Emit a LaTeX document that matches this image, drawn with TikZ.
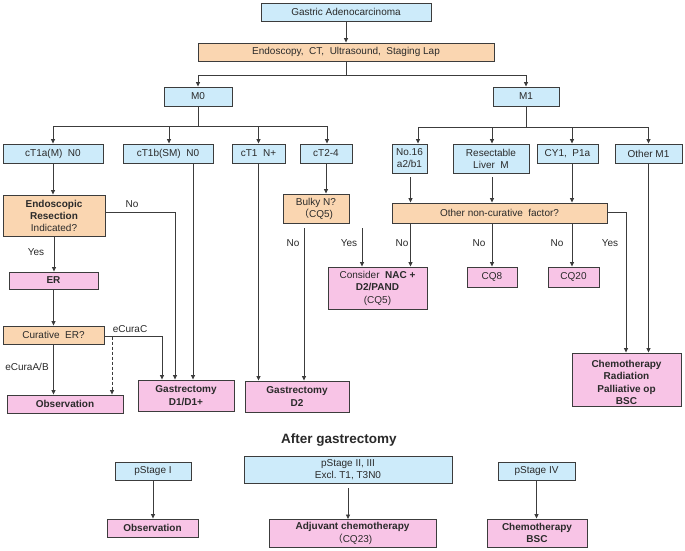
\documentclass[tikz,border=0pt]{standalone}
\usepackage{fontspec}
\setmainfont{Liberation Sans}
\newfontfamily\cjk{Noto Sans CJK SC}
\usetikzlibrary{arrows.meta}
\definecolor{bfill}{HTML}{CDEBFA}
\definecolor{ofill}{HTML}{FAD6B1}
\definecolor{pfill}{HTML}{F8C4E6}
\definecolor{lncol}{HTML}{3C3C3C}
\definecolor{txcol}{HTML}{2A2A2A}
\begin{document}
\begin{tikzpicture}[x=1pt,y=-1pt,
  box/.style={draw=lncol, line width=0.9pt, inner sep=0pt, align=center, text=txcol,
              font=\fontsize{10}{12}\selectfont},
  sz/.style 2 args={minimum width=#1, minimum height=#2},
  bbox/.style={box, fill=bfill},
  obox/.style={box, fill=ofill},
  pbox/.style={box, fill=pfill, font=\fontsize{10}{12.5}\selectfont\bfseries},
  conn/.style={draw=lncol, line width=0.8pt},
  arr/.style={conn, -{Triangle[length=4.5pt,width=4pt]}},
  lbl/.style={text=txcol, font=\fontsize{10}{12}\selectfont, inner sep=0pt}]
\useasboundingbox (0,0) rectangle (685,550);
\fill[white] (0,0) rectangle (685,550);

% top
\node[bbox, sz={170}{18}] (ga) at (346,12) {Gastric Adenocarcinoma};
\node[obox, sz={296}{18}] (endo) at (346,52) {Endoscopy,\ \ CT,\ \ Ultrasound,\ \ Staging Lap};
\node[bbox, sz={68}{19}] (m0) at (198,96.5) {M0};
\node[bbox, sz={66}{19}] (m1) at (526,96.5) {M1};

% M0 branch
\node[bbox, sz={100}{19}] (ct1a) at (53,153.5) {cT1a(M)\ \ N0};
\node[bbox, sz={90}{19}] (ct1b) at (168,153.5) {cT1b(SM)\ \ N0};
\node[bbox, sz={53}{19}] (ct1n) at (258.5,153.5) {cT1\ \ N+};
\node[bbox, sz={52}{19}] (ct24) at (326,153.5) {cT2-4};

% M1 branch
\node[bbox, sz={35}{29}] (no16) at (409.5,158.5) {No.16\\a2/b1};
\node[bbox, sz={76}{29}] (res) at (491,158.5) {Resectable\\Liver\ \ M};
\node[bbox, sz={61}{19}] (cy1) at (567.5,153.5) {CY1,\ \ P1a};
\node[bbox, sz={67}{19}] (om1) at (648.5,153.5) {Other M1};

% left column
\node[obox, sz={102}{41}] (erind) at (54,215.5) {\textbf{Endoscopic}\\\textbf{Resection}\\Indicated?};
\node[pbox, sz={89}{17}] (er) at (53.5,280.5) {ER};
\node[obox, sz={101}{18}] (curer) at (53.5,335) {Curative\ \ ER?};
\node[pbox, sz={116}{18}] (obs) at (65,404) {Observation};
\node[pbox, sz={96}{31}] (gd1) at (186,395.5) {Gastrectomy\\D1/D1+};
\node[pbox, sz={104}{31}] (gd2) at (297,396.5) {Gastrectomy\\D2};
\node[obox, sz={66}{29}] (bulky) at (316,208.5) {Bulky N?\\{\cjk （}CQ5)};
\node[pbox, sz={99}{42}] (nac) at (377.5,288) {\mdseries Consider\ \ \bfseries NAC\ +\\D2/PAND\\\mdseries(CQ5)};

% right column
\node[obox, sz={215}{20}] (onc) at (499.5,213) {Other\ non-curative\ \ factor?};
\node[pbox, sz={50}{20}] (cq8) at (492,277) {\mdseries CQ8};
\node[pbox, sz={51}{20}] (cq20) at (573.5,277) {\mdseries CQ20};
\node[pbox, sz={109}{53}] (chemo) at (626.5,379.5) {\rule{0pt}{13.5pt}Chemotherapy\\Radiation\\Palliative op\\BSC};

% after gastrectomy
\node[lbl, font=\fontsize{13.5}{15}\selectfont\bfseries] (after) at (339,440) {After gastrectomy};
\node[bbox, sz={76}{18}] (ps1) at (153,471) {pStage I};
\node[bbox, sz={208}{27}] (ps2) at (348,469.5) {pStage II,\ III\\Excl.\ T1,\ T3N0};
\node[bbox, sz={77}{18}] (ps4) at (536.5,471) {pStage IV};
\node[pbox, sz={91}{18}] (obs2) at (152.5,528) {Observation};
\node[pbox, sz={167}{28}] (adj) at (352.5,533.5) {Adjuvant chemotherapy\\\mdseries{\cjk （}CQ23)};
\node[pbox, sz={100}{28}] (chb) at (537,533) {Chemotherapy\\BSC};

% connectors top
\draw[arr] (ga) -- (endo);
\draw[arr] (endo.south) -- ++(0,14) -| (m0.north);
\draw[arr] (endo.south) -- ++(0,14) -| (m1.north);
\draw[arr] (m0.south) -- ++(0,19.5) -| (ct1a.north);
\draw[arr] (m0.south) -- ++(0,19.5) -| ([xshift=1pt]ct1b.north);
\draw[arr] (m0.south) -- ++(0,19.5) -| (ct1n.north);
\draw[arr] (m0.south) -- ++(0,19.5) -| ([xshift=1pt]ct24.north);
\draw[arr] (m1.south) -- ++(0,20.5) -| ([xshift=8.5pt]no16.north);
\draw[arr] (m1.south) -- ++(0,20.5) -| ([xshift=1pt]res.north);
\draw[arr] (m1.south) -- ++(0,20.5) -| ([xshift=4.5pt]cy1.north);
\draw[arr] (m1.south) -- ++(0,20.5) -| (om1.north);

% left column connectors
\draw[arr] (ct1a.south) -- (ct1a.south |- erind.north);
\draw[arr] ([yshift=3pt]erind.east) -| ([xshift=-11pt]gd1.north);
\node[lbl] (lno1) at (132,204) {No};
\draw[arr] (erind.south) -- (erind.south |- er.north);
\node[lbl] (lyes1) at (36,252.5) {Yes};
\draw[arr] (er.south) -- (er.south |- curer.north);
\draw[arr] (curer.south) -- (curer.south |- obs.north);
\node[lbl] (lab) at (27,367) {eCuraA/B};
\draw[arr] ([yshift=-1.5pt]curer.east) -| ([xshift=-24pt]gd1.north);
\node[lbl] (lc) at (130,329) {eCuraC};
\coordinate (dtop) at (112,336.5);
\draw[arr, dashed, dash pattern=on 3pt off 2pt] (dtop) -- (dtop |- obs.north);
\path ([xshift=25pt]ct1b.south) coordinate (b1);
\draw[arr] (b1) -- (b1 |- gd1.north);
\draw[arr] (ct1n.south) -- (ct1n.south |- gd2.north);
\draw[arr] (ct24.south) -- (ct24.south |- bulky.north);
\path ([xshift=-12pt]bulky.south) coordinate (bn);
\draw[arr, shorten <=5pt] (bn) -- (bn |- gd2.north);
\node[lbl] (lno2) at (293,243) {No};
\coordinate (by) at (362,223);
\draw[arr, shorten <=5pt] (by) -- (by |- nac.north);
\node[lbl] (lyes2) at (349,243) {Yes};

% right column connectors
\path ([xshift=1pt]no16.south) coordinate (n16);
\draw[arr, shorten <=4pt] (n16) -- (n16 |- onc.north);
\path ([xshift=1pt]res.south) coordinate (rs);
\draw[arr, shorten <=4pt] (rs) -- (rs |- onc.north);
\path ([xshift=4.5pt]cy1.south) coordinate (cy);
\draw[arr] (cy) -- (cy |- onc.north);
\draw[arr] (om1.south) -- (om1.south |- chemo.north);
\path (n16 |- onc.south) coordinate (o1);
\draw[arr] (o1) -- (o1 |- nac.north);
\node[lbl] (lno3) at (402,243) {No};
\draw[arr] (onc.south -| cq8.north) -- (cq8.north);
\node[lbl] (lno4) at (479,243) {No};
\path (cy |- onc.south) coordinate (o3);
\draw[arr] (o3) -- (o3 |- cq20.north);
\node[lbl] (lno5) at (557,243) {No};
\draw[arr] ([yshift=1pt]onc.east) -| ([xshift=-0.5pt]chemo.north);
\node[lbl] (lyes3) at (610,243) {Yes};

% bottom connectors
\draw[arr] (ps1.south) -- (ps1.south |- obs2.north);
\draw[arr, shorten <=5pt] (ps2.south) -- (ps2.south |- adj.north);
\draw[arr] (ps4.south) -- (ps4.south |- chb.north);
\end{tikzpicture}
\end{document}
